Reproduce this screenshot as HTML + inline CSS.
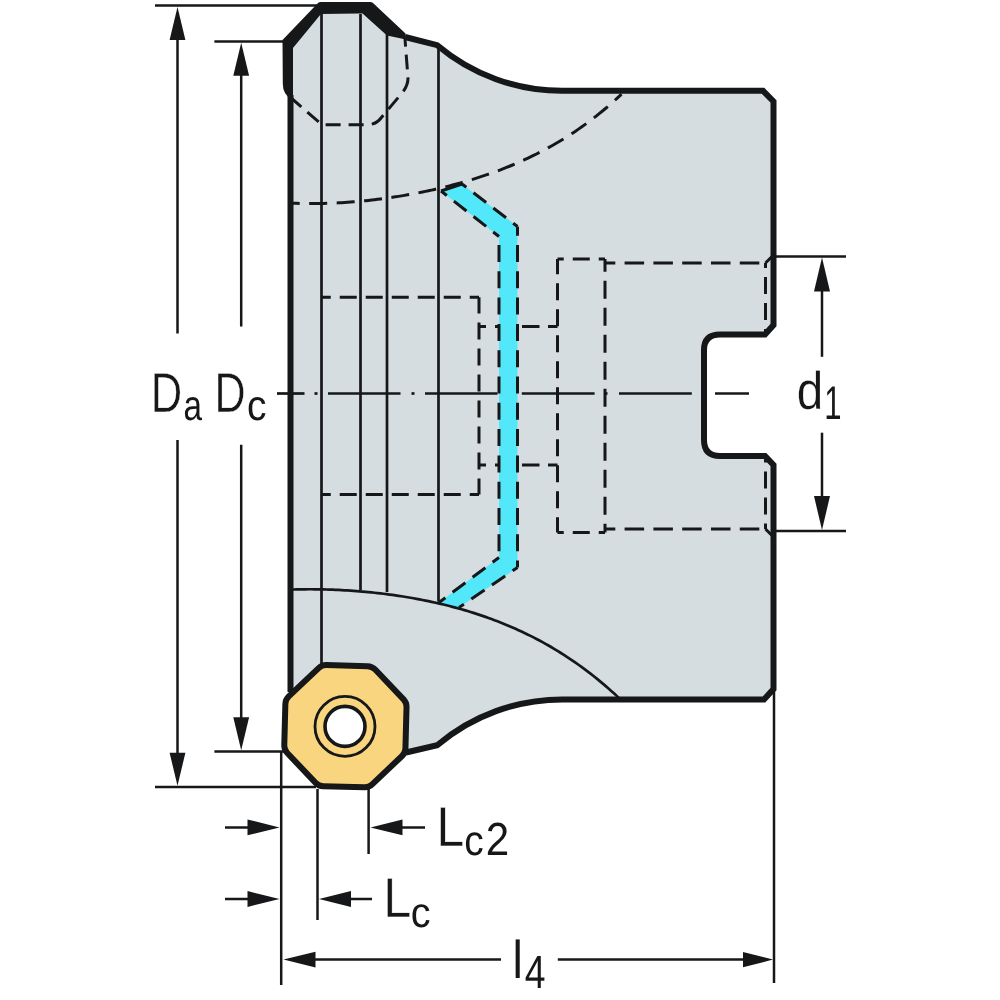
<!DOCTYPE html>
<html><head><meta charset="utf-8"><style>html,body{margin:0;padding:0;background:#fff;overflow:hidden;font-family:"Liberation Sans",sans-serif;}svg{display:block}</style></head>
<body><svg width="1000" height="1000" viewBox="0 0 1000 1000">
<rect width="1000" height="1000" fill="#fff"/>
<path d="M290.5,692 L290.5,97 L293,48 L321,14 L362.5,13.5 L387,34 L405,38 L437.2,45.2 A193.6,193.6 0 0 0 563,90.8 H763 L773.5,101.5 V325 L765,334.5 H720 Q704,334.5 704,350 V440 Q704,456 720,456 H765 L773.5,465 V689 L764,699.4 H563 A193.6,193.6 0 0 0 437.2,745.2 L406,752.5 L345,760 Z" fill="#D5DDE0" stroke="none"/>
<path d="M290.5,203.05 L293.5,203.19 L296.5,203.31 L299.5,203.41 L302.5,203.49 L305.5,203.54 L308.5,203.57 L311.5,203.59 L314.5,203.58 L317.5,203.55 L320.5,203.51 L323.5,203.44 L326.5,203.36 L329.5,203.26 L332.5,203.14 L335.5,203.00 L338.5,202.85 L341.5,202.68 L344.5,202.49 L347.5,202.28 L350.5,202.06 L353.5,201.82 L356.5,201.57 L359.5,201.30 L362.5,201.01 L365.5,200.71 L368.5,200.39 L371.5,200.06 L374.5,199.71 L377.5,199.34 L380.5,198.96 L383.5,198.57 L386.5,198.15 L389.5,197.73 L392.5,197.29 L395.5,196.83 L398.5,196.36 L401.5,195.87 L404.5,195.36 L407.5,194.85 L410.5,194.31 L413.5,193.76 L416.5,193.19 L419.5,192.61 L422.5,192.01 L425.5,191.39 L428.5,190.76 L431.5,190.11 L434.5,189.44 L437.5,188.76 L440.5,188.06 L443.5,187.34 L446.5,186.60 L449.5,185.84 L452.5,185.07 L455.5,184.27 L458.5,183.46 L461.5,182.63 L464.5,181.77 L467.5,180.90 L470.5,180.00 L473.5,179.09 L476.5,178.15 L479.5,177.19 L482.5,176.20 L485.5,175.20 L488.5,174.17 L491.5,173.11 L494.5,172.03 L497.5,170.93 L500.5,169.79 L503.5,168.64 L506.5,167.45 L509.5,166.24 L512.5,165.00 L515.5,163.73 L518.5,162.43 L521.5,161.10 L524.5,159.74 L527.5,158.35 L530.5,156.93 L533.5,155.47 L536.5,153.98 L539.5,152.46 L542.5,150.90 L545.5,149.30 L548.5,147.67 L551.5,146.00 L554.5,144.29 L557.5,142.54 L560.5,140.75 L563.5,138.92 L566.5,137.05 L569.5,135.14 L572.5,133.18 L575.5,131.18 L578.5,129.13 L581.5,127.04 L584.5,124.90 L587.5,122.70 L590.5,120.46 L593.5,118.17 L596.5,115.83 L599.5,113.44 L602.5,110.99 L605.5,108.49 L608.5,105.93 L611.5,103.31 L614.5,100.64 L617.5,97.90 L620.5,95.11 L621.5,94.16" fill="none" stroke="#161719" stroke-width="3.0" stroke-dasharray="18 9.5" stroke-dashoffset="8.8"/>
<path d="M290,97 L322,124.8 H366 Q376,124.8 381,118 L402,93 Q408,86 408,78 L405,39" fill="none" stroke="#161719" stroke-width="3.0" stroke-dasharray="15 8"/>
<line x1="321.5" y1="297.3" x2="479" y2="297.3" stroke="#161719" stroke-width="3.0" stroke-dasharray="17 9" stroke-dashoffset="7.75"/>
<line x1="479" y1="297.3" x2="479" y2="494.5" stroke="#161719" stroke-width="3.0" stroke-dasharray="17 9" stroke-dashoffset="0.90"/>
<line x1="479" y1="494.5" x2="321.5" y2="494.5" stroke="#161719" stroke-width="3.0" stroke-dasharray="17 9" stroke-dashoffset="7.75"/>
<line x1="557.5" y1="259" x2="605" y2="259" stroke="#161719" stroke-width="3.0" stroke-dasharray="17 9" stroke-dashoffset="10.75"/>
<line x1="605" y1="259" x2="605" y2="532.5" stroke="#161719" stroke-width="3.0" stroke-dasharray="18 9" stroke-dashoffset="5.30"/>
<line x1="605" y1="532.5" x2="557.5" y2="532.5" stroke="#161719" stroke-width="3.0" stroke-dasharray="17 9" stroke-dashoffset="10.75"/>
<line x1="557.5" y1="532.5" x2="557.5" y2="259" stroke="#161719" stroke-width="3.0" stroke-dasharray="17 9" stroke-dashoffset="1.75"/>
<line x1="605" y1="263" x2="765.5" y2="263" stroke="#161719" stroke-width="3.0" stroke-dasharray="19.5 9.3" stroke-dashoffset="9.20"/>
<line x1="765.5" y1="263" x2="765.5" y2="334" stroke="#161719" stroke-width="3.0" stroke-dasharray="17 9" stroke-dashoffset="12.00"/>
<line x1="605" y1="529" x2="765.5" y2="529" stroke="#161719" stroke-width="3.0" stroke-dasharray="19.5 9.3" stroke-dashoffset="9.20"/>
<line x1="765.5" y1="529" x2="765.5" y2="457" stroke="#161719" stroke-width="3.0" stroke-dasharray="17 9" stroke-dashoffset="11.50"/>
<line x1="765.5" y1="263" x2="772" y2="256.5" stroke="#161719" stroke-width="3.0"/>
<line x1="765.5" y1="529" x2="772" y2="535.5" stroke="#161719" stroke-width="3.0"/>
<line x1="479" y1="326.5" x2="486" y2="326.5" stroke="#161719" stroke-width="3.0"/>
<line x1="495" y1="326.5" x2="499" y2="326.5" stroke="#161719" stroke-width="3.0"/>
<line x1="522" y1="326.5" x2="539.5" y2="326.5" stroke="#161719" stroke-width="3.0"/>
<line x1="548" y1="326.5" x2="557.5" y2="326.5" stroke="#161719" stroke-width="3.0"/>
<line x1="479" y1="465" x2="486" y2="465" stroke="#161719" stroke-width="3.0"/>
<line x1="495" y1="465" x2="499" y2="465" stroke="#161719" stroke-width="3.0"/>
<line x1="522" y1="465" x2="539.5" y2="465" stroke="#161719" stroke-width="3.0"/>
<line x1="548" y1="465" x2="557.5" y2="465" stroke="#161719" stroke-width="3.0"/>
<line x1="277" y1="393.5" x2="304.5" y2="393.5" stroke="#161719" stroke-width="2.7"/>
<line x1="314.5" y1="393.5" x2="317.5" y2="393.5" stroke="#161719" stroke-width="2.7"/>
<line x1="328" y1="393.5" x2="400.5" y2="393.5" stroke="#161719" stroke-width="2.7"/>
<line x1="411.5" y1="393.5" x2="414.5" y2="393.5" stroke="#161719" stroke-width="2.7"/>
<line x1="425" y1="393.5" x2="497.5" y2="393.5" stroke="#161719" stroke-width="2.7"/>
<line x1="521.8" y1="393.5" x2="594.6" y2="393.5" stroke="#161719" stroke-width="2.7"/>
<line x1="604.5" y1="393.5" x2="607.5" y2="393.5" stroke="#161719" stroke-width="2.7"/>
<line x1="619" y1="393.5" x2="691.8" y2="393.5" stroke="#161719" stroke-width="2.7"/>
<line x1="715" y1="393.5" x2="749" y2="393.5" stroke="#161719" stroke-width="2.7"/>
<path d="M441,191 L462,184 L517.5,226.5 V567.5 L459,607.5 L439,602.5 L499,557.5 V236.5 Z" fill="#52E8FA"/>
<line x1="441" y1="191" x2="499" y2="236.5" stroke="#161719" stroke-width="3.0" stroke-dasharray="16 9" stroke-dashoffset="8.64"/>
<line x1="499" y1="236.5" x2="499" y2="557.5" stroke="#161719" stroke-width="3.0" stroke-dasharray="17 9.3" stroke-dashoffset="17.80"/>
<line x1="499" y1="557.5" x2="439" y2="602.5" stroke="#161719" stroke-width="3.0" stroke-dasharray="16 9" stroke-dashoffset="8.00"/>
<line x1="462" y1="184" x2="517.5" y2="226.5" stroke="#161719" stroke-width="3.0" stroke-dasharray="16 9" stroke-dashoffset="10.55"/>
<line x1="517.5" y1="226.5" x2="517.5" y2="567.5" stroke="#161719" stroke-width="3.0" stroke-dasharray="17 9.3" stroke-dashoffset="7.80"/>
<line x1="517.5" y1="567.5" x2="459" y2="607.5" stroke="#161719" stroke-width="3.0" stroke-dasharray="16 9" stroke-dashoffset="10.07"/>
<line x1="441" y1="191" x2="462" y2="184" stroke="#161719" stroke-width="3.0"/>
<line x1="321.5" y1="14" x2="321.5" y2="664" stroke="#161719" stroke-width="2.7"/>
<line x1="360.5" y1="14" x2="360.5" y2="590" stroke="#161719" stroke-width="2.7"/>
<line x1="387" y1="34" x2="387" y2="592" stroke="#161719" stroke-width="2.7"/>
<line x1="438.5" y1="46" x2="438.5" y2="601.5" stroke="#161719" stroke-width="2.7"/>
<path d="M290.5,589.57 L293.5,589.48 L296.5,589.40 L299.5,589.35 L302.5,589.31 L305.5,589.28 L308.5,589.27 L311.5,589.27 L314.5,589.29 L317.5,589.32 L320.5,589.37 L323.5,589.43 L326.5,589.51 L329.5,589.60 L332.5,589.71 L335.5,589.83 L338.5,589.97 L341.5,590.12 L344.5,590.28 L347.5,590.46 L350.5,590.66 L353.5,590.87 L356.5,591.09 L359.5,591.33 L362.5,591.58 L365.5,591.85 L368.5,592.14 L371.5,592.43 L374.5,592.75 L377.5,593.08 L380.5,593.42 L383.5,593.78 L386.5,594.16 L389.5,594.55 L392.5,594.96 L395.5,595.38 L398.5,595.82 L401.5,596.28 L404.5,596.76 L407.5,597.25 L410.5,597.75 L413.5,598.28 L416.5,598.82 L419.5,599.39 L422.5,599.97 L425.5,600.56 L428.5,601.18 L431.5,601.82 L434.5,602.47 L437.5,603.15 L440.5,603.84 L443.5,604.56 L446.5,605.29 L449.5,606.05 L452.5,606.83 L455.5,607.63 L458.5,608.45 L461.5,609.29 L464.5,610.16 L467.5,611.05 L470.5,611.96 L473.5,612.90 L476.5,613.86 L479.5,614.85 L482.5,615.86 L485.5,616.90 L488.5,617.96 L491.5,619.05 L494.5,620.17 L497.5,621.32 L500.5,622.49 L503.5,623.69 L506.5,624.92 L509.5,626.18 L512.5,627.48 L515.5,628.80 L518.5,630.15 L521.5,631.54 L524.5,632.96 L527.5,634.41 L530.5,635.89 L533.5,637.41 L536.5,638.97 L539.5,640.55 L542.5,642.18 L545.5,643.84 L548.5,645.54 L551.5,647.28 L554.5,649.06 L557.5,650.88 L560.5,652.73 L563.5,654.63 L566.5,656.57 L569.5,658.55 L572.5,660.57 L575.5,662.64 L578.5,664.76 L581.5,666.91 L584.5,669.12 L587.5,671.37 L590.5,673.67 L593.5,676.01 L596.5,678.41 L599.5,680.85 L602.5,683.35 L605.5,685.90 L608.5,688.50 L611.5,691.15 L614.5,693.86 L617.5,696.63 L619.5,698.50" fill="none" stroke="#161719" stroke-width="2.7" stroke-linejoin="round"/>
<path d="M290.5,95 V692" fill="none" stroke="#161719" stroke-width="6" stroke-linejoin="miter"/>
<path d="M405,37 L437.2,45.2 A193.6,193.6 0 0 0 563,90.8 H763 L773.5,101.5 V325 L765,334.5 H720 Q704,334.5 704,350 V440 Q704,456 720,456 H765 L773.5,465 V689 L764,699.4 H563 A193.6,193.6 0 0 0 437.2,745.2 L406,752.5" fill="none" stroke="#161719" stroke-width="6" stroke-linejoin="miter"/>
<path d="M282.5,40 L318,3 Q319,2 321,2 L370,2 Q372,2 373,3 L405.5,33.5 L406,39.5 L387,35.5 L362.5,13.5 L321,14 L293,48 L293,97 L290,99.5 L285,93 Q282.8,89 282.8,84 Z" fill="#161719"/>
<path d="M318.63,668.06 Q321.89,664.96 326.39,665.08 L367.58,666.16 Q372.08,666.28 375.18,669.54 L403.54,699.43 Q406.64,702.69 406.52,707.19 L405.44,748.38 Q405.32,752.88 402.06,755.98 L372.17,784.34 Q368.91,787.44 364.41,787.32 L323.22,786.24 Q318.72,786.12 315.62,782.86 L287.26,752.97 Q284.16,749.71 284.28,745.21 L285.36,704.02 Q285.48,699.52 288.74,696.42 Z" fill="#FAD580" stroke="#161719" stroke-width="6" stroke-linejoin="round"/>
<circle cx="345" cy="726.4" r="30" fill="none" stroke="#161719" stroke-width="2.8"/>
<circle cx="345" cy="726.4" r="20" fill="#fff" stroke="#161719" stroke-width="3.6"/>
<line x1="155" y1="5.6" x2="318" y2="5.6" stroke="#161719" stroke-width="2.5"/>
<line x1="214.4" y1="41.6" x2="283" y2="41.6" stroke="#161719" stroke-width="2.5"/>
<line x1="214.4" y1="751.5" x2="284" y2="751.5" stroke="#161719" stroke-width="2.5"/>
<line x1="155" y1="787" x2="316" y2="787" stroke="#161719" stroke-width="2.5"/>
<line x1="281.2" y1="752" x2="281.2" y2="985" stroke="#161719" stroke-width="2.5"/>
<line x1="317.5" y1="789" x2="317.5" y2="920" stroke="#161719" stroke-width="2.5"/>
<line x1="368.6" y1="789" x2="368.6" y2="854" stroke="#161719" stroke-width="2.5"/>
<line x1="774" y1="689" x2="774" y2="983" stroke="#161719" stroke-width="2.5"/>
<line x1="773" y1="256.5" x2="846" y2="256.5" stroke="#161719" stroke-width="2.5"/>
<line x1="773" y1="531" x2="846" y2="531" stroke="#161719" stroke-width="2.5"/>
<line x1="177.5" y1="20" x2="177.5" y2="333.6" stroke="#161719" stroke-width="2.5"/>
<line x1="177.5" y1="440" x2="177.5" y2="772" stroke="#161719" stroke-width="2.5"/>
<line x1="241.2" y1="55" x2="241.2" y2="326.4" stroke="#161719" stroke-width="2.5"/>
<line x1="241.2" y1="444.8" x2="241.2" y2="737" stroke="#161719" stroke-width="2.5"/>
<line x1="822" y1="270" x2="822" y2="356.8" stroke="#161719" stroke-width="2.5"/>
<line x1="822" y1="432.7" x2="822" y2="517" stroke="#161719" stroke-width="2.5"/>
<line x1="225" y1="827.4" x2="265" y2="827.4" stroke="#161719" stroke-width="2.5"/>
<line x1="385" y1="827.4" x2="425" y2="827.4" stroke="#161719" stroke-width="2.5"/>
<line x1="225" y1="899" x2="265" y2="899" stroke="#161719" stroke-width="2.5"/>
<line x1="333" y1="899" x2="372" y2="899" stroke="#161719" stroke-width="2.5"/>
<line x1="300" y1="959.6" x2="501" y2="959.6" stroke="#161719" stroke-width="2.5"/>
<line x1="557.8" y1="959.6" x2="757" y2="959.6" stroke="#161719" stroke-width="2.5"/>
<polygon points="177.5,7 185.4,40.0 169.6,40.0" fill="#161719"/>
<polygon points="177.5,785.8 169.6,752.8 185.4,752.8" fill="#161719"/>
<polygon points="241.2,42.8 249.1,75.8 233.3,75.8" fill="#161719"/>
<polygon points="241.2,750.3 233.3,717.3 249.1,717.3" fill="#161719"/>
<polygon points="822,257.5 830.0,291.5 814.0,291.5" fill="#161719"/>
<polygon points="822,530 814.0,496.0 830.0,496.0" fill="#161719"/>
<polygon points="279.5,827.4 247.5,835.3 247.5,819.5" fill="#161719"/>
<polygon points="370.5,827.4 402.5,819.5 402.5,835.3" fill="#161719"/>
<polygon points="279.5,899 247.5,906.9 247.5,891.1" fill="#161719"/>
<polygon points="319,899 351.0,891.1 351.0,906.9" fill="#161719"/>
<polygon points="283.5,959.6 315.5,951.7 315.5,967.5" fill="#161719"/>
<polygon points="773,959.6 743.0,967.2 743.0,952.0" fill="#161719"/>
<g font-family="&quot;Liberation Sans&quot;, sans-serif" fill="#161719" style="text-rendering:geometricPrecision" opacity="0.999">
<text transform="matrix(0.7804,0,0,1,150.63,411.50)" font-size="55.81" stroke="#fff" stroke-width="0.45">D</text>
<text transform="matrix(0.7794,0,0,1,183.39,420.38)" font-size="42.71">a</text>
<text transform="matrix(0.7714,0,0,1,214.47,411.50)" font-size="55.81" stroke="#fff" stroke-width="0.45">D</text>
<text transform="matrix(0.9123,0,0,1,246.94,420.38)" font-size="42.71">c</text>
<text transform="matrix(0.8961,0,0,1,796.80,409.48)" font-size="53.11" stroke="#fff" stroke-width="0.27">d</text>
<text transform="matrix(0.6599,0,0,1,824.23,418.80)" font-size="47.09">1</text>
<text transform="matrix(0.8940,0,0,1,436.51,846.00)" font-size="55.81" stroke="#fff" stroke-width="0.45">L</text>
<text transform="matrix(0.9201,0,0,1,464.14,854.79)" font-size="42.35">c</text>
<text transform="matrix(0.9083,0,0,1,485.68,855.20)" font-size="46.40">2</text>
<text transform="matrix(0.8991,0,0,1,383.15,917.40)" font-size="56.25" stroke="#fff" stroke-width="0.45">L</text>
<text transform="matrix(0.9326,0,0,1,410.82,926.88)" font-size="42.53">c</text>
<text transform="matrix(0.8757,0,0,1,512.56,978.40)" font-size="53.27">l</text>
<text transform="matrix(0.7996,0,0,1,524.64,987.50)" font-size="46.66">4</text>
</g>
</svg></body></html>
